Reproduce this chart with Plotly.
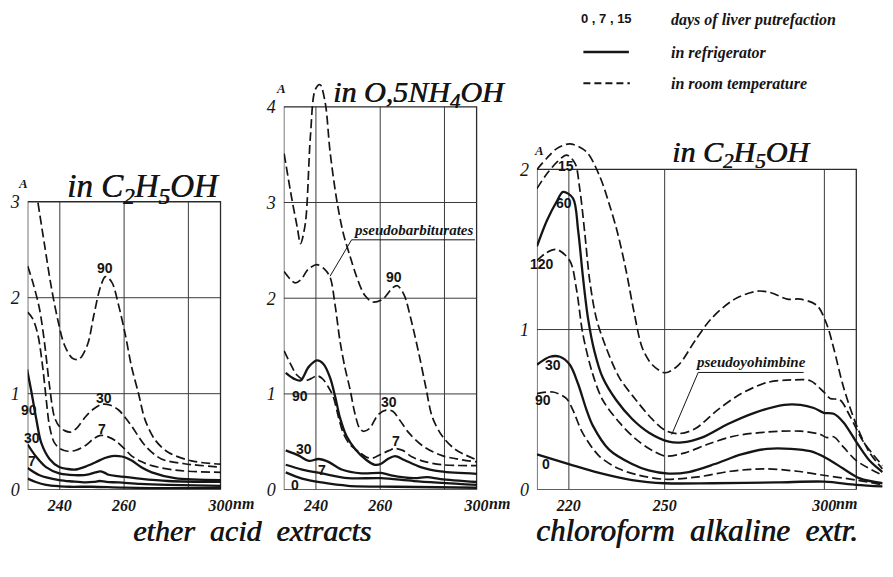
import plotly.graph_objects as go

W, H = 893, 577

# ---------------- Panel 1 : ether acid extracts, in C2H5OH ----------------
p1_xgrid = [240, 260, 280]
p1_ygrid = [1, 2]
p1_xticks = [240, 260, 290]
p1_xtext = ["240", "260", "300"]
p1_yticks = [0, 1, 2, 3]

p1_d90_x = [233.2, 235.2, 237.3, 239.3, 241.4, 243.9, 246.0, 248.6, 250.6, 252.7, 254.2, 256.2, 258.3, 260.4, 262.4, 264.5, 266.5, 269.6, 273.7, 280.9, 290.1]
p1_d90_y = [2.99, 2.56, 2.12, 1.78, 1.51, 1.37, 1.36, 1.51, 1.82, 2.12, 2.22, 2.16, 1.92, 1.61, 1.27, 1.00, 0.73, 0.52, 0.39, 0.30, 0.265]
p1_d30_x = [230.0, 231.6, 233.7, 235.2, 236.8, 238.3, 239.8, 241.5, 243.4, 245.5, 248.0, 250.5, 253.2, 255.8, 258.3, 260.4, 262.4, 266.5, 271.6, 278.8, 290.1]
p1_d30_y = [2.33, 2.16, 1.88, 1.54, 1.08, 0.76, 0.66, 0.615, 0.60, 0.65, 0.76, 0.84, 0.89, 0.88, 0.83, 0.75, 0.66, 0.46, 0.32, 0.27, 0.235]
p1_d7_x = [230.0, 231.6, 233.2, 234.7, 235.8, 236.8, 238.3, 240.4, 242.5, 245.0, 248.0, 250.5, 252.7, 255.0, 257.3, 260.0, 262.4, 265.5, 268.6, 276.8, 290.1]
p1_d7_y = [1.85, 1.78, 1.61, 1.27, 0.93, 0.66, 0.49, 0.42, 0.40, 0.41, 0.46, 0.53, 0.565, 0.55, 0.51, 0.43, 0.35, 0.29, 0.25, 0.20, 0.18]
p1_s90_x = [229.8, 231.1, 232.7, 234.2, 236.8, 239.8, 242.5, 245.0, 248.0, 251.1, 254.0, 256.2, 258.3, 260.0, 262.5, 265.5, 268.6, 275.8, 290.1]
p1_s90_y = [1.255, 1.03, 0.73, 0.49, 0.32, 0.235, 0.215, 0.21, 0.24, 0.285, 0.33, 0.35, 0.35, 0.34, 0.30, 0.23, 0.18, 0.12, 0.10]
p1_s30_x = [230.0, 232.7, 235.7, 239.8, 243.0, 246.0, 249.0, 251.1, 252.6, 254.0, 255.2, 258.0, 263.4, 273.7, 290.1]
p1_s30_y = [0.47, 0.34, 0.235, 0.17, 0.155, 0.15, 0.16, 0.18, 0.19, 0.175, 0.155, 0.14, 0.12, 0.09, 0.08]
p1_s7_x = [230.0, 233.7, 239.8, 244.0, 248.0, 250.5, 252.4, 254.5, 258.3, 265.0, 273.7, 290.1]
p1_s7_y = [0.225, 0.15, 0.10, 0.085, 0.075, 0.08, 0.09, 0.08, 0.075, 0.06, 0.05, 0.04]
p1_s0_x = [230.0, 232.5, 235.7, 240.0, 243.0, 250.0, 260.0, 275.0, 290.1]
p1_s0_y = [0.115, 0.08, 0.05, 0.035, 0.03, 0.03, 0.02, 0.015, 0.015]

# ---------------- Panel 2 : ether acid extracts, in 0.5 NH4OH ----------------
p2_xgrid = [240, 260, 280]
p2_ygrid = [1, 2, 3]
p2_xticks = [240, 260, 290]
p2_xtext = ["240", "260", "300"]
p2_yticks = [0, 1, 2, 3, 4]

p2_d90_x = [230.1, 232.6, 234.2, 235.2, 236.7, 238.3, 239.8, 241.3, 242.9, 244.4, 246.5, 248.5, 250.6, 252.6, 255.2, 257.7, 260.8, 263.9, 265.4, 267.5, 269.5, 272.1, 274.2, 276.2, 279.3, 283.4, 290.1]
p2_d90_y = [3.51, 3.02, 2.74, 2.57, 2.78, 3.70, 4.18, 4.23, 4.04, 3.53, 3.02, 2.68, 2.44, 2.23, 2.03, 1.96, 1.99, 2.11, 2.13, 2.03, 1.79, 1.41, 1.07, 0.76, 0.56, 0.42, 0.31]
p2_d30_x = [230.1, 232.0, 233.6, 235.5, 237.5, 240.3, 242.5, 244.4, 246.0, 247.5, 249.0, 250.6, 252.1, 253.6, 254.7, 256.7, 259.3, 261.8, 263.9, 266.0, 269.0, 273.1, 279.3, 290.1]
p2_d30_y = [2.28, 2.20, 2.16, 2.20, 2.30, 2.35, 2.31, 2.22, 1.92, 1.55, 1.28, 1.05, 0.80, 0.64, 0.61, 0.64, 0.78, 0.83, 0.82, 0.73, 0.59, 0.46, 0.355, 0.29]
p2_d7_x = [230.1, 232.0, 234.0, 236.7, 238.5, 240.3, 242.0, 243.9, 245.4, 247.0, 248.5, 250.6, 253.6, 255.7, 257.7, 260.3, 262.9, 264.4, 267.0, 270.0, 274.2, 279.3, 290.1]
p2_d7_y = [1.45, 1.32, 1.20, 1.14, 1.16, 1.19, 1.16, 1.07, 0.97, 0.76, 0.59, 0.47, 0.39, 0.34, 0.33, 0.37, 0.41, 0.43, 0.41, 0.34, 0.29, 0.26, 0.25]
p2_s90_x = [230.6, 233.1, 235.2, 237.7, 240.3, 242.4, 244.4, 246.0, 247.5, 249.5, 252.3, 255.7, 258.3, 260.3, 262.4, 264.6, 267.5, 272.6, 278.8, 290.1]
p2_s90_y = [1.22, 1.16, 1.14, 1.28, 1.35, 1.31, 1.17, 0.97, 0.75, 0.56, 0.42, 0.31, 0.26, 0.27, 0.32, 0.35, 0.31, 0.235, 0.19, 0.165]
p2_s30_x = [230.6, 234.7, 237.8, 240.8, 243.9, 248.0, 254.2, 260.3, 263.4, 270.5, 274.6, 278.8, 290.1]
p2_s30_y = [0.41, 0.355, 0.30, 0.32, 0.29, 0.21, 0.17, 0.175, 0.15, 0.12, 0.13, 0.11, 0.08]
p2_s7_x = [230.6, 235.7, 241.8, 250.0, 260.3, 270.5, 290.1]
p2_s7_y = [0.26, 0.21, 0.17, 0.12, 0.12, 0.09, 0.05]
p2_s0_x = [230.6, 235.7, 241.8, 250.0, 265.0, 290.1]
p2_s0_y = [0.18, 0.115, 0.075, 0.04, 0.03, 0.02]

# ---------------- Panel 3 : chloroform alkaline extr., in C2H5OH ----------------
p3_xgrid = [220, 250, 300]
p3_ygrid = [1]
p3_xticks = [220, 250, 300]
p3_xtext = ["220", "250", "300"]
p3_yticks = [0, 1, 2]

p3_dtop_x = [210.0, 213.1, 216.2, 220.3, 225.5, 229.6, 232.7, 235.3, 237.9, 240.4, 243.0, 246.1, 250.2, 254.4, 259.5, 264.7, 271.9, 279.1, 283.3, 288.4, 292.5, 297.7, 300.8, 302.9, 306.0, 310.1, 314.2, 318.2]
p3_dtop_y = [2.00, 2.07, 2.13, 2.16, 2.11, 1.96, 1.78, 1.60, 1.37, 1.11, 0.885, 0.78, 0.73, 0.78, 0.93, 1.07, 1.19, 1.24, 1.23, 1.19, 1.19, 1.15, 1.03, 0.885, 0.64, 0.40, 0.23, 0.13]
p3_d15_x = [210.0, 213.0, 216.5, 219.3, 221.9, 223.4, 225.0, 226.5, 228.6, 231.7, 235.8, 241.0, 246.1, 250.2, 254.4, 259.5, 266.7, 274.0, 282.2, 289.5, 295.6, 299.8, 301.8, 304.9, 308.0, 312.2, 318.2]
p3_d15_y = [1.88, 1.97, 2.05, 2.09, 2.04, 1.88, 1.60, 1.31, 1.07, 0.885, 0.70, 0.56, 0.44, 0.37, 0.35, 0.38, 0.50, 0.60, 0.67, 0.685, 0.68, 0.61, 0.57, 0.56, 0.46, 0.30, 0.15]
p3_s60_x = [210.0, 213.1, 216.2, 218.2, 221.3, 222.9, 224.4, 226.0, 228.0, 230.6, 234.8, 239.9, 245.1, 251.3, 255.4, 261.6, 269.8, 278.1, 287.4, 292.5, 296.7, 299.8, 302.9, 306.0, 310.1, 314.2, 318.2]
p3_s60_y = [1.52, 1.68, 1.80, 1.86, 1.82, 1.62, 1.33, 1.07, 0.865, 0.70, 0.56, 0.44, 0.356, 0.30, 0.295, 0.325, 0.41, 0.48, 0.53, 0.53, 0.51, 0.48, 0.474, 0.42, 0.295, 0.18, 0.11]
p3_d120_x = [210.0, 213.0, 216.2, 220.3, 222.4, 224.4, 227.5, 230.6, 235.8, 241.0, 246.1, 250.2, 256.4, 263.7, 271.9, 282.2, 292.5, 298.7, 300.8, 302.9, 306.0, 310.1, 318.2]
p3_d120_y = [1.43, 1.48, 1.50, 1.43, 1.25, 0.97, 0.72, 0.56, 0.42, 0.315, 0.245, 0.21, 0.23, 0.285, 0.335, 0.36, 0.365, 0.345, 0.325, 0.33, 0.265, 0.18, 0.09]
p3_s30_x = [210.0, 214.1, 217.2, 220.3, 222.9, 225.5, 227.5, 232.6, 239.8, 245.0, 251.3, 257.5, 265.7, 274.0, 282.2, 289.5, 295.6, 300.8, 306.0, 311.1, 318.2]
p3_s30_y = [0.78, 0.83, 0.83, 0.78, 0.66, 0.50, 0.40, 0.25, 0.16, 0.12, 0.10, 0.11, 0.16, 0.22, 0.255, 0.255, 0.24, 0.195, 0.13, 0.07, 0.04]
p3_d90_x = [210.0, 215.0, 219.2, 221.2, 224.3, 229.5, 235.7, 241.9, 250.0, 260.4, 270.7, 281.0, 291.4, 299.7, 310.0, 318.2]
p3_d90_y = [0.60, 0.61, 0.57, 0.50, 0.355, 0.21, 0.13, 0.09, 0.065, 0.08, 0.115, 0.13, 0.115, 0.09, 0.06, 0.03]
p3_s0_x = [210.0, 220.0, 229.5, 239.8, 250.0, 265.0, 285.0, 300.0, 310.0, 318.2]
p3_s0_y = [0.22, 0.16, 0.105, 0.06, 0.04, 0.04, 0.045, 0.05, 0.03, 0.02]

# ---------------- figure ----------------
fig = go.Figure()
INK = "#151515"
SERIF = "Liberation Serif"
SANS = "Liberation Sans"


def add_curve(x, y, dashed, n):
    fig.add_trace(go.Scatter(
        x=x, y=y, mode="lines",
        xaxis="x" if n == 1 else f"x{n}", yaxis="y" if n == 1 else f"y{n}",
        line=dict(color=INK, width=1.7 if dashed else 2.3,
                  dash="9px,4px" if dashed else "solid", shape="spline", smoothing=0.9),
        hoverinfo="skip", showlegend=False))


for xs, ys, d in [(p1_d90_x, p1_d90_y, 1), (p1_d30_x, p1_d30_y, 1), (p1_d7_x, p1_d7_y, 1),
                  (p1_s90_x, p1_s90_y, 0), (p1_s30_x, p1_s30_y, 0), (p1_s7_x, p1_s7_y, 0), (p1_s0_x, p1_s0_y, 0)]:
    add_curve(xs, ys, d, 1)
for xs, ys, d in [(p2_d90_x, p2_d90_y, 1), (p2_d30_x, p2_d30_y, 1), (p2_d7_x, p2_d7_y, 1),
                  (p2_s90_x, p2_s90_y, 0), (p2_s30_x, p2_s30_y, 0), (p2_s7_x, p2_s7_y, 0), (p2_s0_x, p2_s0_y, 0)]:
    add_curve(xs, ys, d, 2)
for xs, ys, d in [(p3_dtop_x, p3_dtop_y, 1), (p3_d15_x, p3_d15_y, 1), (p3_s60_x, p3_s60_y, 0),
                  (p3_d120_x, p3_d120_y, 1), (p3_s30_x, p3_s30_y, 0), (p3_d90_x, p3_d90_y, 1), (p3_s0_x, p3_s0_y, 0)]:
    add_curve(xs, ys, d, 3)


def px_x(px):
    return px / W


def px_y(py):
    return 1 - py / H


xfont = dict(family=SERIF, size=16, style="italic", weight="bold", color=INK)
yfont = dict(family=SERIF, size=18, style="italic", color=INK)


def axes(n, px0, pxpernm, xr, ybase, pxperA, yr, xt, xtt, yt):
    dx = [px_x(px0), min(1.0, px_x(px0 + (xr[1] - xr[0]) * pxpernm))]
    dy = [px_y(ybase), min(1.0, px_y(ybase - (yr[1] - yr[0]) * pxperA))]
    sx = "" if n == 1 else str(n)
    fig.layout[f"xaxis{sx}"] = dict(domain=dx, range=xr, anchor=f"y{sx}", tickvals=xt, ticktext=xtt,
                                    showgrid=False, zeroline=False, showline=False, ticks="",
                                    tickfont=xfont, ticklabelstandoff=4, fixedrange=True)
    fig.layout[f"yaxis{sx}"] = dict(domain=dy, range=yr, anchor=f"x{sx}", tickvals=yt,
                                    ticktext=[str(v) for v in yt],
                                    showgrid=False, zeroline=False, showline=False, ticks="",
                                    tickfont=yfont, ticklabelstandoff=7, fixedrange=True)


axes(1, 28, 3.25, [230, 290.5], 498, 98, [0, 3.08], p1_xticks, p1_xtext, p1_yticks)
axes(2, 287, 3.25, [230, 290.5], 498, 97.75, [0, 4.3], p2_xticks, p2_xtext, p2_yticks)
axes(3, 543, 3.23, [210, 318.3], 498, 163.5, [0, 2.22], p3_xticks, p3_xtext, p3_yticks)


def frame(n, x0, x1, y0, y1, xg, yg):
    xr = "x" if n == 1 else f"x{n}"
    yr = "y" if n == 1 else f"y{n}"
    fig.add_shape(type="rect", xref=xr, yref=yr, x0=x0, x1=x1, y0=y0, y1=y1,
                  line=dict(color="#2a2a2a", width=1.3), layer="below")
    for g in xg:
        fig.add_shape(type="line", xref=xr, yref=yr, x0=g, x1=g, y0=y0, y1=y1,
                      line=dict(color="#3a3a3a", width=1), layer="below")
    for g in yg:
        fig.add_shape(type="line", xref=xr, yref=yr, x0=x0, x1=x1, y0=g, y1=g,
                      line=dict(color="#3a3a3a", width=1), layer="below")


frame(1, 230, 290, 0, 3, p1_xgrid, p1_ygrid)
frame(2, 230, 290, 0, 4, p2_xgrid, p2_ygrid)
frame(3, 210, 310, 0, 2, p3_xgrid, p3_ygrid)

ann = []
lblfont = dict(family=SANS, size=14, weight="bold", color=INK)


def lab(n, x, y, t):
    sx = "" if n == 1 else str(n)
    ann.append(dict(x=x, y=y, xref=f"x{sx}", yref=f"y{sx}", text=t, showarrow=False,
                    xanchor="center", yanchor="middle", font=lblfont))


for t, x, y in [("90", 254.0, 2.31), ("30", 253.7, 0.96), ("7", 253.1, 0.63),
                ("90", 230.3, 0.83), ("30", 231.2, 0.54), ("7", 231.2, 0.30), ("0", 228.2, 0.11)]:
    lab(1, x, y, t)
for t, x, y in [("90", 264.3, 2.22), ("30", 262.8, 0.92), ("7", 264.9, 0.51),
                ("90", 235.1, 0.98), ("30", 236.3, 0.42), ("7", 241.8, 0.20), ("0", 233.5, 0.05)]:
    lab(2, x, y, t)
for t, x, y in [("15", 219.1, 2.02), ("60", 218.5, 1.79), ("120", 211.6, 1.41),
                ("30", 215.0, 0.78), ("90", 212.0, 0.56), ("0", 212.9, 0.16)]:
    lab(3, x, y, t)

# "nm" after the 300 ticks
for sx, xv in [("", 290), ("2", 290), ("3", 300)]:
    ann.append(dict(x=xv, y=0, xref=f"x{sx}", yref=f"y{sx}", text="nm", showarrow=False,
                    xanchor="left", yanchor="top", xshift=10, yshift=-3, font=xfont))

# compound annotations
notefont = dict(family=SERIF, size=15, style="italic", weight="bold", color=INK)
ann.append(dict(x=270.3, y=2.61, xref="x2", yref="y2", text="pseudobarbiturates", showarrow=False,
                xanchor="center", yanchor="bottom", yshift=0, font=notefont))
fig.add_shape(type="line", xref="x2", yref="y2", x0=251.1, x1=289.5, y0=2.61, y1=2.61, line=dict(color=INK, width=1))
fig.add_shape(type="line", xref="x2", yref="y2", x0=251.1, x1=244.4, y0=2.61, y1=2.23, line=dict(color=INK, width=1))
ann.append(dict(x=277.0, y=0.732, xref="x3", yref="y3", text="pseudoyohimbine", showarrow=False,
                xanchor="center", yanchor="bottom", yshift=0, font=notefont))
fig.add_shape(type="line", xref="x3", yref="y3", x0=260.5, x1=293.5, y0=0.732, y1=0.732, line=dict(color=INK, width=1))
fig.add_shape(type="line", xref="x3", yref="y3", x0=260.5, x1=252.2, y0=0.732, y1=0.344, line=dict(color=INK, width=1))

# titles
titlefont = dict(family=SERIF, style="italic", color=INK, shadow="0.6px 0 0 #151515")
for text, cx, cy, size in [("in C<sub>2</sub>H<sub>5</sub>OH", 145, 190, 33),
                           ("in O,5NH<sub>4</sub>OH", 424, 94, 30),
                           ("in C<sub>2</sub>H<sub>5</sub>OH", 750, 155, 30)]:
    ann.append(dict(x=px_x(cx), y=px_y(cy), xref="paper", yref="paper", text=text, showarrow=False,
                    xanchor="center", yanchor="middle", font=dict(size=size, **titlefont)))
for cx, cy in [(23, 185), (284, 88), (545, 152)]:
    ann.append(dict(x=px_x(cx), y=px_y(cy), xref="paper", yref="paper", text="A", showarrow=False,
                    xanchor="center", yanchor="middle",
                    font=dict(family=SERIF, size=13, style="italic", weight="bold", color=INK)))

# legend (drawn)
legfont = dict(family=SERIF, size=16, style="italic", weight="bold", color=INK)
ann.append(dict(x=px_x(613), y=px_y(17), xref="paper", yref="paper", text="0 , 7 , 15", showarrow=False,
                xanchor="center", yanchor="middle",
                font=dict(family=SANS, size=13, weight="bold", color=INK)))
for text, cy in [("days of liver putrefaction", 18), ("in refrigerator", 52), ("in room temperature", 84)]:
    ann.append(dict(x=px_x(677), y=px_y(cy), xref="paper", yref="paper", text=text, showarrow=False,
                    xanchor="left", yanchor="middle", font=legfont))
fig.add_shape(type="line", xref="paper", yref="paper", x0=px_x(590), x1=px_x(636), y0=px_y(51), y1=px_y(51),
              line=dict(color=INK, width=2.5))
fig.add_shape(type="line", xref="paper", yref="paper", x0=px_x(590), x1=px_x(637), y0=px_y(83), y1=px_y(83),
              line=dict(color=INK, width=2.2, dash="7px,4px"))

# bottom captions
capfont = dict(family=SERIF, size=30, style="italic", color=INK, shadow="0.7px 0 0 #151515")
ann.append(dict(x=px_x(255), y=px_y(540), xref="paper", yref="paper", text="ether  acid  extracts",
                xanchor="center", yanchor="middle", showarrow=False, font=capfont))
ann.append(dict(x=px_x(705), y=px_y(540), xref="paper", yref="paper", text="chloroform  alkaline  extr.",
                xanchor="center", yanchor="middle", showarrow=False, font=dict(capfont, size=31)))

fig.update_layout(width=W, height=H, margin=dict(l=0, r=0, t=0, b=0),
                  paper_bgcolor="white", plot_bgcolor="rgba(0,0,0,0)",
                  annotations=ann, showlegend=False)

fig.write_html("out.html", config={"displayModeBar": False})
